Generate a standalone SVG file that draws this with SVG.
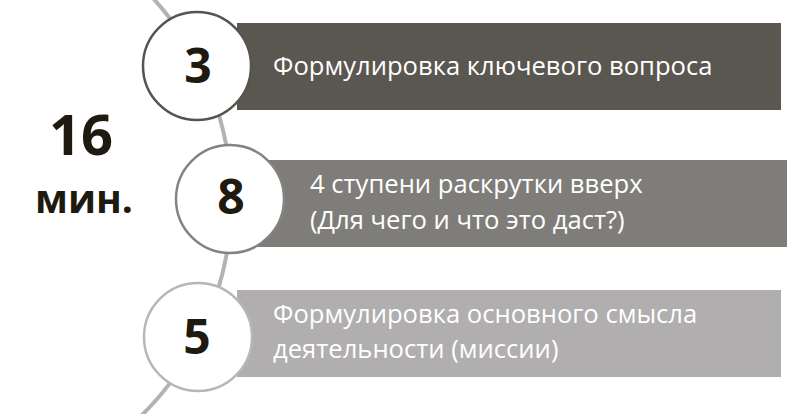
<svg xmlns="http://www.w3.org/2000/svg" width="790" height="414" viewBox="0 0 790 414">
  <style>
    .bar-text { font-family: "Open Sans", "Noto Sans", sans-serif; font-size: 25.6px; fill: #ffffff; }
    .num { font-family: "Open Sans", "Noto Sans", sans-serif; font-size: 48px; font-weight: bold; fill: #1f1a10; text-anchor: middle; }
    .big { font-family: "Open Sans", "Noto Sans", sans-serif; font-weight: bold; fill: #1f1a10; text-anchor: middle; }
    .node-circle { fill: #ffffff; stroke-width: 2.5; }
  </style>
  <rect width="790" height="414" fill="#ffffff"/>
  <g id="connectors">
    <path d="M152,-3 A301.4,301.4 0 0 1 141,416" fill="none" stroke="#b3b3b3" stroke-width="4"/>
  </g>
  <g id="total">
    <text class="big" x="81" y="155" font-size="56">16</text>
    <text class="big" x="84" y="213" font-size="39">мин.</text>
  </g>
  <g id="node-1">
    <rect x="237" y="23" width="544" height="87" fill="#5a5650"/>
    <circle class="node-circle" cx="197" cy="66" r="54" stroke="#57534f"/>
    <text class="num" x="198" y="83">3</text>
    <text class="bar-text" x="273" y="75">Формулировка ключевого вопроса</text>
  </g>
  <g id="node-2">
    <rect x="250" y="160" width="537" height="87" fill="#7f7d79"/>
    <circle class="node-circle" cx="230" cy="199" r="54" stroke="#858380"/>
    <text class="num" x="231" y="214">8</text>
    <text class="bar-text" x="310" y="193">4 ступени раскрутки вверх</text>
    <text class="bar-text" x="310" y="229">(Для чего и что это даст?)</text>
  </g>
  <g id="node-3">
    <rect x="237" y="290" width="544" height="87" fill="#b0aeae"/>
    <circle class="node-circle" cx="198" cy="337" r="54" stroke="#b8b6b6"/>
    <text class="num" x="197" y="354" font-size="45">5</text>
    <text class="bar-text" x="273" y="323">Формулировка основного смысла</text>
    <text class="bar-text" x="273" y="358">деятельности (миссии)</text>
  </g>
</svg>
